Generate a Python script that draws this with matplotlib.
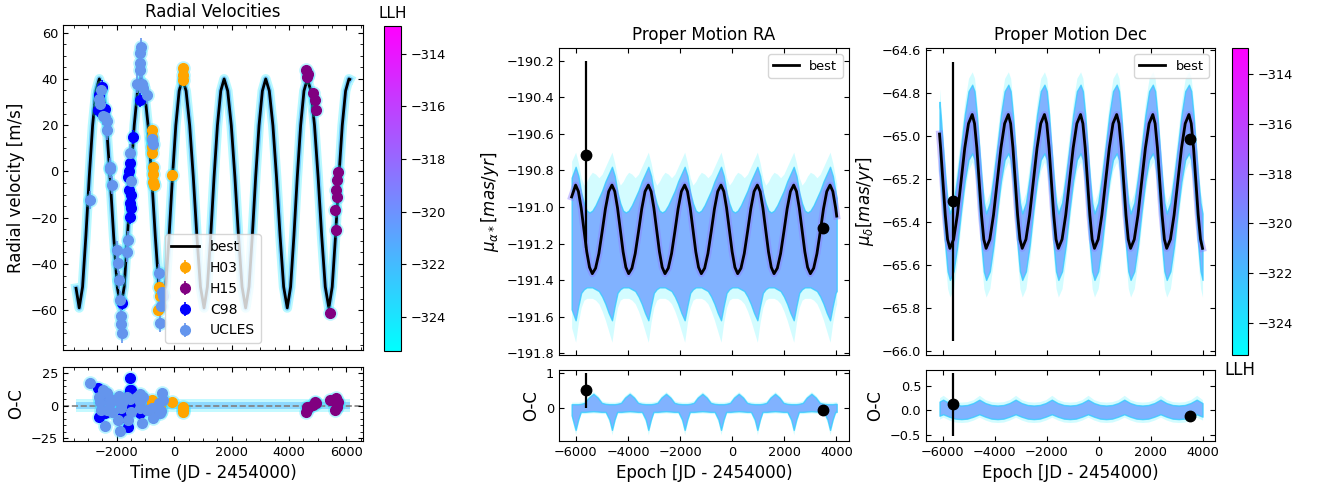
import matplotlib
matplotlib.use("Agg")
import numpy as np
import matplotlib.pyplot as plt
from matplotlib.ticker import MultipleLocator, AutoMinorLocator
from matplotlib.colors import Normalize
from matplotlib.cm import ScalarMappable

# epochs are JD - 2454000

# ---- RV best-fit orbit (m/s)
rv_t = [-3420,
        -3310, -3193, -3077, -2960, -2843, -2727, -2610, -2485, -2360, -2235, -2110, -1985,
        -1860, -1743, -1627, -1510, -1393, -1277, -1160, -1035, -910, -785, -660, -535,
        -410, -293, -177, -60, 57, 173, 290, 415, 540, 665, 790, 915,
        1040, 1157, 1273, 1390, 1507, 1623, 1740, 1865, 1990, 2115, 2240, 2365,
        2490, 2607, 2723, 2840, 2957, 3073, 3190, 3315, 3440, 3565, 3690, 3815,
        3940, 4057, 4173, 4290, 4407, 4523, 4640, 4765, 4890, 5015, 5140, 5265,
        5390, 5507, 5623, 5740, 5857, 5973, 6090, 6120]
rv_best = [-50.5,
           -59.0, -49.9, -27.8, -2.3, 19.9, 34.8, 40.0, 34.8, 19.9, -2.3, -27.8, -49.9,
           -59.0, -49.9, -27.8, -2.3, 19.9, 34.8, 40.0, 34.8, 19.9, -2.3, -27.8, -49.9,
           -59.0, -49.9, -27.8, -2.3, 19.9, 34.8, 40.0, 34.8, 19.9, -2.3, -27.8, -49.9,
           -59.0, -49.9, -27.8, -2.3, 19.9, 34.8, 40.0, 34.8, 19.9, -2.3, -27.8, -49.9,
           -59.0, -49.9, -27.8, -2.3, 19.9, 34.8, 40.0, 34.8, 19.9, -2.3, -27.8, -49.9,
           -59.0, -49.9, -27.8, -2.3, 19.9, 34.8, 40.0, 34.8, 19.9, -2.3, -27.8, -49.9,
           -59.0, -49.9, -27.8, -2.3, 19.9, 34.8, 40.0, 39.8]
rv_oc_out = 5.0
rv_oc_in = 2.5

# ---- RV data per instrument
h03_t = [-790, -790, -790, -760, -731, -731, -731, -708, -557, -522, -499, -93, 290, 290, 290]
h03_rv = [17.8, 15.0, 10.6, 7.8, 2.0, -0.9, -4.5, -5.9, -60.0, -50.0, -54.0, -1.6, 44.5, 41.6, 39.4]
h03_oc = [4.3, 2.0, -1.0, -3.3, 3.0, -2.0, -4.0, 0.5, -4.6, -3.0, -2.0, 3.0, -0.8, -4.6, -3.0]
h03_err = 1.5

h15_t = [4609, 4632, 4650, 4841, 4899, 4934, 5422, 5596, 5631, 5654, 5677, 5690, 5712]
h15_rv = [43.7, 40.9, 42.0, 33.7, 30.8, 26.5, -61.3, -16.7, -25.3, -8.0, -10.9, -3.7, -0.1]
h15_oc = [-4.6, -0.8, -2.0, 0.5, 3.0, 1.8, 4.3, -3.3, 3.0, 5.6, 1.8, -0.8, 2.5]
h15_err = 1.5

c98_t = [-2647, -2620, -2500, -2420, -1834, -1602, -1580, -1560, -1544, -1544, -1544, -1520, -1490, -1428, -1196]
c98_rv = [26.5, 33.0, 36.5, 27.2, -57.0, -2.3, 0.0, -8.0, 3.5, -13.8, -19.6, -16.0, -10.0, 15.0, 30.8]
c98_oc = [13.2, -8.4, 8.0, -6.0, -9.0, -16.0, 8.0, -3.0, 20.8, 11.9, 3.0, 12.0, 1.8, 5.0, -6.0]
c98_err = 3.0

ucles_t = [-2937, -2612, -2580, -2540, -2470, -2400, -2357, -2330, -2241, -2220, -2183, -2009, -1950,
           -1916, -1892, -1858, -1850, -1834, -1660, -1602, -1544, -1500, -1312, -1196, -1196,
           -1161, -1180, -1138, -1080, -964, -789, -731, -522, -499, -460, -441, -383]
ucles_rv = [-12.4, 31.5, 29.0, 35.0, 24.0, 23.6, 17.8, 22.0, 2.0, 1.0, -5.9, -34.0, -39.7,
            -47.0, -55.5, -62.7, -66.0, -70.0, -35.0, -29.6, 7.8, -4.0, 38.0, 43.7, 51.0,
            53.8, 47.0, 38.0, 36.0, 33.0, 14.2, 12.0, -44.0, -65.6, -58.0, -52.0, -54.0]
ucles_oc = [17.5, 6.9, 3.0, -3.3, 12.0, -15.5, -3.0, 9.4, 2.0, 5.0, -5.0, 4.3, -10.9,
            7.0, -19.8, -2.0, 4.0, 1.8, 6.9, -10.9, 5.0, -4.6, 6.9, 3.0, 9.0,
            4.0, -2.0, -13.5, 6.9, -3.0, -2.0, -9.6, 2.0, -6.0, -4.0, 9.4, 4.3]
ucles_err = 4.0

# ---- proper motion RA (mas/yr): best fit and posterior envelope
ra_t = [-6166,
        -6012, -5905, -5799, -5692, -5585, -5479, -5372, -5246, -5120, -4994, -4869, -4743,
        -4617, -4510, -4404, -4297, -4190, -4084, -3977, -3851, -3725, -3599, -3474, -3348,
        -3222, -3115, -3009, -2902, -2795, -2689, -2582, -2456, -2330, -2204, -2079, -1953,
        -1827, -1720, -1614, -1507, -1400, -1294, -1187, -1061, -935, -809, -684, -558,
        -432, -325, -219, -112, -5, 101, 208, 334, 460, 586, 711, 837,
        963, 1070, 1176, 1283, 1390, 1496, 1603, 1729, 1855, 1981, 2106, 2232,
        2358, 2465, 2571, 2678, 2785, 2891, 2998, 3124, 3250, 3376, 3501, 3627,
        3753, 3860, 3966, 4008]
ra_best = [-190.945,
           -190.880, -190.915, -191.005, -191.125, -191.245, -191.330, -191.365, -191.335, -191.255, -191.135, -191.010, -190.915,
           -190.880, -190.915, -191.005, -191.125, -191.245, -191.330, -191.365, -191.335, -191.255, -191.135, -191.010, -190.915,
           -190.880, -190.915, -191.005, -191.125, -191.245, -191.330, -191.365, -191.335, -191.255, -191.135, -191.010, -190.915,
           -190.880, -190.915, -191.005, -191.125, -191.245, -191.330, -191.365, -191.335, -191.255, -191.135, -191.010, -190.915,
           -190.880, -190.915, -191.005, -191.125, -191.245, -191.330, -191.365, -191.335, -191.255, -191.135, -191.010, -190.915,
           -190.880, -190.915, -191.005, -191.125, -191.245, -191.330, -191.365, -191.335, -191.255, -191.135, -191.010, -190.915,
           -190.880, -190.915, -191.005, -191.125, -191.245, -191.330, -191.365, -191.335, -191.255, -191.135, -191.010, -190.915,
           -190.880, -190.915, -191.005, -191.050]
ra_lo_out = [-191.66,
             -191.74, -191.63, -191.55, -191.51, -191.50, -191.50, -191.50, -191.51, -191.53, -191.57, -191.62, -191.68,
             -191.74, -191.63, -191.55, -191.51, -191.50, -191.50, -191.50, -191.51, -191.53, -191.57, -191.62, -191.68,
             -191.74, -191.63, -191.55, -191.51, -191.50, -191.50, -191.50, -191.51, -191.53, -191.57, -191.62, -191.68,
             -191.74, -191.63, -191.55, -191.51, -191.50, -191.50, -191.50, -191.51, -191.53, -191.57, -191.62, -191.68,
             -191.74, -191.63, -191.55, -191.51, -191.50, -191.50, -191.50, -191.51, -191.53, -191.57, -191.62, -191.68,
             -191.74, -191.63, -191.55, -191.51, -191.50, -191.50, -191.50, -191.51, -191.53, -191.57, -191.62, -191.68,
             -191.74, -191.63, -191.55, -191.51, -191.50, -191.50, -191.50, -191.51, -191.53, -191.57, -191.62, -191.68,
             -191.74, -191.63, -191.55, -191.53]
ra_lo_in = [-191.56,
            -191.62, -191.54, -191.47, -191.45, -191.44, -191.44, -191.44, -191.45, -191.46, -191.49, -191.53, -191.58,
            -191.62, -191.54, -191.47, -191.45, -191.44, -191.44, -191.44, -191.45, -191.46, -191.49, -191.53, -191.58,
            -191.62, -191.54, -191.47, -191.45, -191.44, -191.44, -191.44, -191.45, -191.46, -191.49, -191.53, -191.58,
            -191.62, -191.54, -191.47, -191.45, -191.44, -191.44, -191.44, -191.45, -191.46, -191.49, -191.53, -191.58,
            -191.62, -191.54, -191.47, -191.45, -191.44, -191.44, -191.44, -191.45, -191.46, -191.49, -191.53, -191.58,
            -191.62, -191.54, -191.47, -191.45, -191.44, -191.44, -191.44, -191.45, -191.46, -191.49, -191.53, -191.58,
            -191.62, -191.54, -191.47, -191.45, -191.44, -191.44, -191.44, -191.45, -191.46, -191.49, -191.53, -191.58,
            -191.62, -191.54, -191.47, -191.46]
ra_hi_in = [-190.84,
            -190.78, -190.83, -190.92, -190.98, -191.02, -191.03, -191.02, -190.99, -190.95, -190.91, -190.86, -190.82,
            -190.78, -190.83, -190.92, -190.98, -191.02, -191.03, -191.02, -190.99, -190.95, -190.91, -190.86, -190.82,
            -190.78, -190.83, -190.92, -190.98, -191.02, -191.03, -191.02, -190.99, -190.95, -190.91, -190.86, -190.82,
            -190.78, -190.83, -190.92, -190.98, -191.02, -191.03, -191.02, -190.99, -190.95, -190.91, -190.86, -190.82,
            -190.78, -190.83, -190.92, -190.98, -191.02, -191.03, -191.02, -190.99, -190.95, -190.91, -190.86, -190.82,
            -190.78, -190.83, -190.92, -190.98, -191.02, -191.03, -191.02, -190.99, -190.95, -190.91, -190.86, -190.82,
            -190.78, -190.83, -190.92, -190.98, -191.02, -191.03, -191.02, -190.99, -190.95, -190.91, -190.86, -190.82,
            -190.78, -190.83, -190.92, -190.95]
ra_hi_out = [-190.75,
             -190.70, -190.76, -190.84, -190.88, -190.86, -190.83, -190.81, -190.82, -190.84, -190.82, -190.78, -190.74,
             -190.70, -190.76, -190.84, -190.88, -190.86, -190.83, -190.81, -190.82, -190.84, -190.82, -190.78, -190.74,
             -190.70, -190.76, -190.84, -190.88, -190.86, -190.83, -190.81, -190.82, -190.84, -190.82, -190.78, -190.74,
             -190.70, -190.76, -190.84, -190.88, -190.86, -190.83, -190.81, -190.82, -190.84, -190.82, -190.78, -190.74,
             -190.70, -190.76, -190.84, -190.88, -190.86, -190.83, -190.81, -190.82, -190.84, -190.82, -190.78, -190.74,
             -190.70, -190.76, -190.84, -190.88, -190.86, -190.83, -190.81, -190.82, -190.84, -190.82, -190.78, -190.74,
             -190.70, -190.76, -190.84, -190.88, -190.86, -190.83, -190.81, -190.82, -190.84, -190.82, -190.78, -190.74,
             -190.70, -190.76, -190.84, -190.87]

# RA residual envelope
raoc_t = [-6166,
          -6012, -5912, -5812, -5662, -5512, -5332, -5162, -5012, -4862, -4717,
          -4617, -4517, -4417, -4267, -4117, -3937, -3767, -3617, -3467, -3322,
          -3222, -3122, -3022, -2872, -2722, -2542, -2372, -2222, -2072, -1927,
          -1827, -1727, -1627, -1477, -1327, -1147, -977, -827, -677, -532,
          -432, -332, -232, -82, 68, 248, 418, 568, 718, 863,
          963, 1063, 1163, 1313, 1463, 1643, 1813, 1963, 2113, 2258,
          2358, 2458, 2558, 2708, 2858, 3038, 3208, 3358, 3508, 3653,
          3753, 3853, 3953, 4008]
raoc_lo_out = [-0.30,
               -0.78, -0.44, -0.17, -0.17, -0.16, -0.15, -0.16, -0.17, -0.17, -0.44,
               -0.78, -0.44, -0.17, -0.17, -0.16, -0.15, -0.16, -0.17, -0.17, -0.44,
               -0.78, -0.44, -0.17, -0.17, -0.16, -0.15, -0.16, -0.17, -0.17, -0.44,
               -0.78, -0.44, -0.17, -0.17, -0.16, -0.15, -0.16, -0.17, -0.17, -0.44,
               -0.78, -0.44, -0.17, -0.17, -0.16, -0.15, -0.16, -0.17, -0.17, -0.44,
               -0.78, -0.44, -0.17, -0.17, -0.16, -0.15, -0.16, -0.17, -0.17, -0.44,
               -0.78, -0.44, -0.17, -0.17, -0.16, -0.15, -0.16, -0.17, -0.17, -0.44,
               -0.78, -0.44, -0.17, -0.17]
raoc_lo_in = [-0.22,
              -0.64, -0.34, -0.12, -0.12, -0.11, -0.10, -0.11, -0.12, -0.12, -0.34,
              -0.64, -0.34, -0.12, -0.12, -0.11, -0.10, -0.11, -0.12, -0.12, -0.34,
              -0.64, -0.34, -0.12, -0.12, -0.11, -0.10, -0.11, -0.12, -0.12, -0.34,
              -0.64, -0.34, -0.12, -0.12, -0.11, -0.10, -0.11, -0.12, -0.12, -0.34,
              -0.64, -0.34, -0.12, -0.12, -0.11, -0.10, -0.11, -0.12, -0.12, -0.34,
              -0.64, -0.34, -0.12, -0.12, -0.11, -0.10, -0.11, -0.12, -0.12, -0.34,
              -0.64, -0.34, -0.12, -0.12, -0.11, -0.10, -0.11, -0.12, -0.12, -0.34,
              -0.64, -0.34, -0.12, -0.12]
raoc_hi_in = [0.10,
              0.10, 0.10, 0.11, 0.14, 0.29, 0.40, 0.29, 0.14, 0.11, 0.10,
              0.10, 0.10, 0.11, 0.14, 0.29, 0.40, 0.29, 0.14, 0.11, 0.10,
              0.10, 0.10, 0.11, 0.14, 0.29, 0.40, 0.29, 0.14, 0.11, 0.10,
              0.10, 0.10, 0.11, 0.14, 0.29, 0.40, 0.29, 0.14, 0.11, 0.10,
              0.10, 0.10, 0.11, 0.14, 0.29, 0.40, 0.29, 0.14, 0.11, 0.10,
              0.10, 0.10, 0.11, 0.14, 0.29, 0.40, 0.29, 0.14, 0.11, 0.10,
              0.10, 0.10, 0.11, 0.14, 0.29, 0.40, 0.29, 0.14, 0.11, 0.10,
              0.10, 0.10, 0.11, 0.11]
raoc_hi_out = [0.16,
               0.16, 0.16, 0.17, 0.20, 0.35, 0.46, 0.35, 0.20, 0.17, 0.16,
               0.16, 0.16, 0.17, 0.20, 0.35, 0.46, 0.35, 0.20, 0.17, 0.16,
               0.16, 0.16, 0.17, 0.20, 0.35, 0.46, 0.35, 0.20, 0.17, 0.16,
               0.16, 0.16, 0.17, 0.20, 0.35, 0.46, 0.35, 0.20, 0.17, 0.16,
               0.16, 0.16, 0.17, 0.20, 0.35, 0.46, 0.35, 0.20, 0.17, 0.16,
               0.16, 0.16, 0.17, 0.20, 0.35, 0.46, 0.35, 0.20, 0.17, 0.16,
               0.16, 0.16, 0.17, 0.20, 0.35, 0.46, 0.35, 0.20, 0.17, 0.16,
               0.16, 0.16, 0.17, 0.17]

# ---- proper motion Dec (mas/yr)
dec_t = [-6130, -6087, -5998, -5908, -5819,
         -5730, -5587, -5443, -5300, -5157, -5013, -4870, -4781, -4692, -4603, -4513, -4424,
         -4335, -4192, -4050, -3907, -3764, -3622, -3479, -3390, -3301, -3212, -3122, -3033,
         -2944, -2801, -2659, -2516, -2373, -2231, -2088, -1999, -1910, -1821, -1731, -1642,
         -1553, -1410, -1268, -1125, -982, -840, -697, -608, -519, -430, -340, -251,
         -162, -19, 123, 266, 409, 551, 694, 783, 872, 961, 1051, 1140,
         1229, 1372, 1514, 1657, 1800, 1942, 2085, 2174, 2263, 2352, 2442, 2531,
         2620, 2763, 2905, 3048, 3191, 3333, 3476, 3565, 3654, 3743, 3833, 3922,
         4000]
dec_best = [-64.990, -65.055, -65.211, -65.367, -65.481,
            -65.523, -65.481, -65.367, -65.211, -65.055, -64.941, -64.899, -64.941, -65.055, -65.211, -65.367, -65.481,
            -65.523, -65.481, -65.367, -65.211, -65.055, -64.941, -64.899, -64.941, -65.055, -65.211, -65.367, -65.481,
            -65.523, -65.481, -65.367, -65.211, -65.055, -64.941, -64.899, -64.941, -65.055, -65.211, -65.367, -65.481,
            -65.523, -65.481, -65.367, -65.211, -65.055, -64.941, -64.899, -64.941, -65.055, -65.211, -65.367, -65.481,
            -65.523, -65.481, -65.367, -65.211, -65.055, -64.941, -64.899, -64.941, -65.055, -65.211, -65.367, -65.481,
            -65.523, -65.481, -65.367, -65.211, -65.055, -64.941, -64.899, -64.941, -65.055, -65.211, -65.367, -65.481,
            -65.523, -65.481, -65.367, -65.211, -65.055, -64.941, -64.899, -64.941, -65.055, -65.211, -65.367, -65.481,
            -65.523]
dec_lo_out = [-65.21, -65.26, -65.41, -65.58, -65.71,
              -65.75, -65.71, -65.58, -65.41, -65.26, -65.16, -65.12, -65.16, -65.26, -65.41, -65.58, -65.71,
              -65.75, -65.71, -65.58, -65.41, -65.26, -65.16, -65.12, -65.16, -65.26, -65.41, -65.58, -65.71,
              -65.75, -65.71, -65.58, -65.41, -65.26, -65.16, -65.12, -65.16, -65.26, -65.41, -65.58, -65.71,
              -65.75, -65.71, -65.58, -65.41, -65.26, -65.16, -65.12, -65.16, -65.26, -65.41, -65.58, -65.71,
              -65.75, -65.71, -65.58, -65.41, -65.26, -65.16, -65.12, -65.16, -65.26, -65.41, -65.58, -65.71,
              -65.75, -65.71, -65.58, -65.41, -65.26, -65.16, -65.12, -65.16, -65.26, -65.41, -65.58, -65.71,
              -65.75, -65.71, -65.58, -65.41, -65.26, -65.16, -65.12, -65.16, -65.26, -65.41, -65.58, -65.71,
              -65.75]
dec_lo_in = [-65.16, -65.21, -65.35, -65.51, -65.63,
             -65.67, -65.63, -65.51, -65.35, -65.21, -65.11, -65.08, -65.11, -65.21, -65.35, -65.51, -65.63,
             -65.67, -65.63, -65.51, -65.35, -65.21, -65.11, -65.08, -65.11, -65.21, -65.35, -65.51, -65.63,
             -65.67, -65.63, -65.51, -65.35, -65.21, -65.11, -65.08, -65.11, -65.21, -65.35, -65.51, -65.63,
             -65.67, -65.63, -65.51, -65.35, -65.21, -65.11, -65.08, -65.11, -65.21, -65.35, -65.51, -65.63,
             -65.67, -65.63, -65.51, -65.35, -65.21, -65.11, -65.08, -65.11, -65.21, -65.35, -65.51, -65.63,
             -65.67, -65.63, -65.51, -65.35, -65.21, -65.11, -65.08, -65.11, -65.21, -65.35, -65.51, -65.63,
             -65.67, -65.63, -65.51, -65.35, -65.21, -65.11, -65.08, -65.11, -65.21, -65.35, -65.51, -65.63,
             -65.67]
dec_hi_in = [-64.84, -64.90, -65.05, -65.19, -65.31,
             -65.36, -65.31, -65.19, -65.05, -64.90, -64.79, -64.76, -64.79, -64.90, -65.05, -65.19, -65.31,
             -65.36, -65.31, -65.19, -65.05, -64.90, -64.79, -64.76, -64.79, -64.90, -65.05, -65.19, -65.31,
             -65.36, -65.31, -65.19, -65.05, -64.90, -64.79, -64.76, -64.79, -64.90, -65.05, -65.19, -65.31,
             -65.36, -65.31, -65.19, -65.05, -64.90, -64.79, -64.76, -64.79, -64.90, -65.05, -65.19, -65.31,
             -65.36, -65.31, -65.19, -65.05, -64.90, -64.79, -64.76, -64.79, -64.90, -65.05, -65.19, -65.31,
             -65.36, -65.31, -65.19, -65.05, -64.90, -64.79, -64.76, -64.79, -64.90, -65.05, -65.19, -65.31,
             -65.36, -65.31, -65.19, -65.05, -64.90, -64.79, -64.76, -64.79, -64.90, -65.05, -65.19, -65.31,
             -65.36]
dec_hi_out = [-64.78, -64.84, -64.99, -65.13, -65.26,
              -65.31, -65.26, -65.13, -64.99, -64.84, -64.73, -64.70, -64.73, -64.84, -64.99, -65.13, -65.26,
              -65.31, -65.26, -65.13, -64.99, -64.84, -64.73, -64.70, -64.73, -64.84, -64.99, -65.13, -65.26,
              -65.31, -65.26, -65.13, -64.99, -64.84, -64.73, -64.70, -64.73, -64.84, -64.99, -65.13, -65.26,
              -65.31, -65.26, -65.13, -64.99, -64.84, -64.73, -64.70, -64.73, -64.84, -64.99, -65.13, -65.26,
              -65.31, -65.26, -65.13, -64.99, -64.84, -64.73, -64.70, -64.73, -64.84, -64.99, -65.13, -65.26,
              -65.31, -65.26, -65.13, -64.99, -64.84, -64.73, -64.70, -64.73, -64.84, -64.99, -65.13, -65.26,
              -65.31, -65.26, -65.13, -64.99, -64.84, -64.73, -64.70, -64.73, -64.84, -64.99, -65.13, -65.26,
              -65.31]

decoc_t = [-6130,
           -5990, -5760, -5525, -5290, -5060, -4830,
           -4595, -4365, -4130, -3895, -3665, -3435,
           -3200, -2970, -2735, -2500, -2270, -2040,
           -1805, -1575, -1340, -1105, -875, -645,
           -410, -180, 55, 290, 520, 750,
           985, 1215, 1450, 1685, 1915, 2145,
           2380, 2610, 2845, 3080, 3310, 3540,
           3775, 4000]
decoc_lo_out = [-0.18,
                -0.14, -0.20, -0.24, -0.25, -0.24, -0.20,
                -0.14, -0.20, -0.24, -0.25, -0.24, -0.20,
                -0.14, -0.20, -0.24, -0.25, -0.24, -0.20,
                -0.14, -0.20, -0.24, -0.25, -0.24, -0.20,
                -0.14, -0.20, -0.24, -0.25, -0.24, -0.20,
                -0.14, -0.20, -0.24, -0.25, -0.24, -0.20,
                -0.14, -0.20, -0.24, -0.25, -0.24, -0.20,
                -0.14, -0.20]
decoc_lo_in = [-0.11,
               -0.08, -0.13, -0.17, -0.18, -0.17, -0.13,
               -0.08, -0.13, -0.17, -0.18, -0.17, -0.13,
               -0.08, -0.13, -0.17, -0.18, -0.17, -0.13,
               -0.08, -0.13, -0.17, -0.18, -0.17, -0.13,
               -0.08, -0.13, -0.17, -0.18, -0.17, -0.13,
               -0.08, -0.13, -0.17, -0.18, -0.17, -0.13,
               -0.08, -0.13, -0.17, -0.18, -0.17, -0.13,
               -0.08, -0.13]
decoc_hi_in = [0.18,
               0.22, 0.15, 0.11, 0.10, 0.11, 0.15,
               0.22, 0.15, 0.11, 0.10, 0.11, 0.15,
               0.22, 0.15, 0.11, 0.10, 0.11, 0.15,
               0.22, 0.15, 0.11, 0.10, 0.11, 0.15,
               0.22, 0.15, 0.11, 0.10, 0.11, 0.15,
               0.22, 0.15, 0.11, 0.10, 0.11, 0.15,
               0.22, 0.15, 0.11, 0.10, 0.11, 0.15,
               0.22, 0.15]
decoc_hi_out = [0.26,
                0.31, 0.22, 0.18, 0.17, 0.18, 0.22,
                0.31, 0.22, 0.18, 0.17, 0.18, 0.22,
                0.31, 0.22, 0.18, 0.17, 0.18, 0.22,
                0.31, 0.22, 0.18, 0.17, 0.18, 0.22,
                0.31, 0.22, 0.18, 0.17, 0.18, 0.22,
                0.31, 0.22, 0.18, 0.17, 0.18, 0.22,
                0.31, 0.22, 0.18, 0.17, 0.18, 0.22,
                0.31, 0.22]

# ---- Hipparcos / Gaia proper motions
pm_epoch = [-5600, 3500]
ra_obs = [-190.713, -191.115]
ra_err = [0.51, 0.01]
ra_oc = [0.50, -0.077]
dec_obs = [-65.303, -65.011]
dec_err = [0.651, 0.01]
dec_oc = [0.123, -0.117]

llh_min, llh_max = -325.3, -312.95

# ---------------------------------------------------------------
plt.rcParams['font.size'] = 9.3
cmap = plt.get_cmap('cool')
W, H = 1320, 488


def box(l, t, r, b):
    return [l / W, 1 - b / H, (r - l) / W, (b - t) / H]


def style(ax, minor=False):
    ax.tick_params(which='both', direction='in', top=True, right=True, labelsize=9.3)
    if minor:
        ax.xaxis.set_minor_locator(AutoMinorLocator())
        ax.yaxis.set_minor_locator(AutoMinorLocator())


fig = plt.figure(figsize=(13.2, 4.88), dpi=100)
ax_rv = fig.add_axes(box(63, 25, 363, 350))
ax_rvoc = fig.add_axes(box(63, 367, 363, 441))
cax1 = fig.add_axes(box(384, 26, 401, 351))
ax_ra = fig.add_axes(box(559, 48, 849, 355))
ax_raoc = fig.add_axes(box(559, 370, 849, 441))
ax_de = fig.add_axes(box(926, 48, 1215, 355))
ax_deoc = fig.add_axes(box(926, 370, 1215, 441))
cax2 = fig.add_axes(box(1232, 48, 1248, 355))

# ---- radial velocities
ax_rv.plot(rv_t, rv_best, color=cmap(0.08), lw=7, alpha=0.3, zorder=1)
ax_rv.plot(rv_t, rv_best, color=cmap(0.3), lw=4, alpha=0.6, zorder=1.2)
ax_rv.plot(rv_t, rv_best, color='black', lw=2, label='best', zorder=2)

ax_rvoc.fill_between(rv_t, -rv_oc_out, rv_oc_out, color=cmap(0.08), alpha=0.25, lw=0)
ax_rvoc.fill_between(rv_t, -rv_oc_in, rv_oc_in, color=cmap(0.3), alpha=0.45, lw=0)
ax_rvoc.axhline(0, color='gray', ls='--', lw=1.2, zorder=1.5)

sets = [('H03', h03_t, h03_rv, h03_oc, h03_err, 'orange'),
        ('H15', h15_t, h15_rv, h15_oc, h15_err, 'purple'),
        ('C98', c98_t, c98_rv, c98_oc, c98_err, 'blue'),
        ('UCLES', ucles_t, ucles_rv, ucles_oc, ucles_err, 'cornflowerblue')]
for name, t, rv, oc, err, col in sets:
    ax_rv.plot(t, rv, 'o', ms=10.5, color=cmap(0.12), alpha=0.3, mew=0, zorder=2.5)
    ax_rv.errorbar(t, rv, yerr=err, fmt='o', ms=7, color=col, ecolor=col,
                   elinewidth=1.2, label=name, zorder=3)
    ax_rvoc.plot(t, oc, 'o', ms=10.5, color=cmap(0.12), alpha=0.3, mew=0, zorder=2.5)
    ax_rvoc.errorbar(t, oc, yerr=err, fmt='o', ms=7, color=col, ecolor=col,
                     elinewidth=1.2, zorder=3)

ax_rv.set_xlim(-3875, 6580)
ax_rv.set_ylim(-77.2, 63.3)
ax_rvoc.set_xlim(-3875, 6580)
ax_rvoc.set_ylim(-27.1, 29.6)
ax_rvoc.yaxis.set_major_locator(MultipleLocator(25))
style(ax_rv, minor=True)
style(ax_rvoc, minor=True)
ax_rv.tick_params(labelbottom=False)
ax_rv.set_title('Radial Velocities', fontsize=12)
ax_rv.set_ylabel('Radial velocity [m/s]', fontsize=12)
ax_rvoc.set_ylabel('O-C', fontsize=12)
ax_rvoc.set_xlabel('Time (JD - 2454000)', fontsize=12)
ax_rv.legend(loc='lower center', fontsize=10)

# ---- proper motions
pm_panels = [(ax_ra, ax_raoc, ra_t, ra_best, ra_lo_out, ra_lo_in, ra_hi_in, ra_hi_out,
              raoc_t, raoc_lo_out, raoc_lo_in, raoc_hi_in, raoc_hi_out,
              ra_obs, ra_err, ra_oc, (-191.81, -190.13), (-0.96, 1.086), 1.0,
              'Proper Motion RA', r'$\mu_{\alpha*} [mas/yr]$'),
             (ax_de, ax_deoc, dec_t, dec_best, dec_lo_out, dec_lo_in, dec_hi_in, dec_hi_out,
              decoc_t, decoc_lo_out, decoc_lo_in, decoc_hi_in, decoc_hi_out,
              dec_obs, dec_err, dec_oc, (-66.02, -64.589), (-0.63, 0.83), 0.5,
              'Proper Motion Dec', r'$\mu_{\delta} [mas/yr]$')]

for (ax, axoc, t, best, lo_o, lo_i, hi_i, hi_o, toc, olo_o, olo_i, ohi_i, ohi_o,
     obs, err, oc, ylim, ylim_oc, oc_step, title, ylabel) in pm_panels:
    ax.fill_between(t, lo_o, hi_o, color=cmap(0.05), alpha=0.18, lw=0)
    ax.fill_between(t, lo_i, hi_i, facecolor='#6a9dff', edgecolor=cmap(0.2),
                    lw=1.0, alpha=0.78)
    ax.plot(t, best, color='#8a7dff', lw=5, alpha=0.45)
    ax.plot(t, best, color='black', lw=2, label='best')
    ax.errorbar(pm_epoch, obs, yerr=err, fmt='o', color='black', ms=7.5, elinewidth=1.6, zorder=5)

    axoc.fill_between(toc, olo_o, ohi_o, color=cmap(0.05), alpha=0.18, lw=0)
    axoc.fill_between(toc, olo_i, ohi_i, facecolor='#6a9dff', edgecolor=cmap(0.2),
                      lw=1.0, alpha=0.78)
    axoc.errorbar(pm_epoch, oc, yerr=err, fmt='o', color='black', ms=7.5, elinewidth=1.6, zorder=5)

    for a in (ax, axoc):
        a.set_xlim(-6650, 4480)
        style(a)
    ax.set_ylim(*ylim)
    ax.yaxis.set_major_locator(MultipleLocator(0.2))
    ax.ticklabel_format(axis='y', useOffset=False)
    axoc.set_ylim(*ylim_oc)
    axoc.yaxis.set_major_locator(MultipleLocator(oc_step))
    ax.tick_params(labelbottom=False)
    ax.set_title(title, fontsize=12)
    ax.set_ylabel(ylabel, fontsize=12)
    axoc.set_ylabel('O-C', fontsize=12)
    axoc.set_xlabel('Epoch [JD - 2454000)', fontsize=12)
    ax.legend(loc='upper right', fontsize=9.3)

# ---- colour bars
sm = ScalarMappable(norm=Normalize(llh_min, llh_max), cmap=cmap)
cb1 = fig.colorbar(sm, cax=cax1)
cb1.ax.set_title('LLH', fontsize=11)
cb1.ax.tick_params(labelsize=9.3)
cb2 = fig.colorbar(sm, cax=cax2)
cb2.ax.set_xlabel('LLH', fontsize=12)
cb2.ax.tick_params(labelsize=9.3)

fig.savefig('out.png', dpi=100)
